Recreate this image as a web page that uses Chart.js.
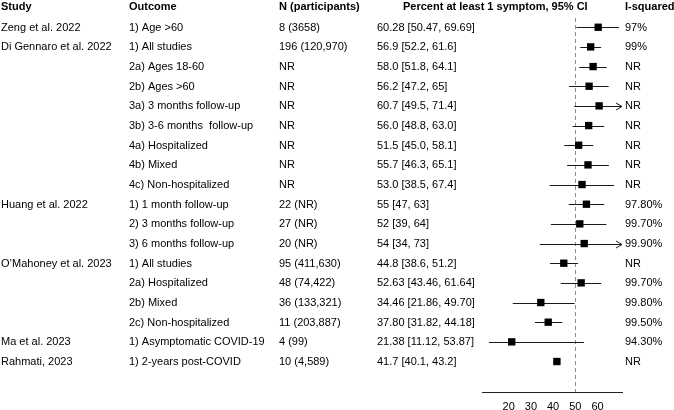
<!DOCTYPE html>
<html>
<head>
<meta charset="utf-8">
<script src="https://cdn.jsdelivr.net/npm/chart.js@4/dist/chart.umd.min.js"></script>
<style>
  html, body { margin: 0; padding: 0; background: #fff; }
  #wrap { width: 674px; height: 410px; }
</style>
</head>
<body>
<div id="wrap"><canvas id="chart" width="674" height="410"></canvas></div>
<script>
// table columns
const studies = ['Zeng et al. 2022', 'Di Gennaro et al. 2022', '', '', '', '', '', '', '',
  'Huang et al. 2022', '', '', 'O\u2019Mahoney et al. 2023', '', '', '', 'Ma et al. 2023', 'Rahmati, 2023'];
const outcomes = ['1) Age >60', '1) All studies', '2a) Ages 18-60', '2b) Ages >60', '3a) 3 months follow-up',
  '3b) 3-6 months  follow-up', '4a) Hospitalized', '4b) Mixed', '4c) Non-hospitalized',
  '1) 1 month follow-up', '2) 3 months follow-up', '3) 6 months follow-up',
  '1) All studies', '2a) Hospitalized', '2b) Mixed', '2c) Non-hospitalized',
  '1) Asymptomatic COVID-19', '1) 2-years post-COVID'];
const participants = ['8 (3658)', '196 (120,970)', 'NR', 'NR', 'NR', 'NR', 'NR', 'NR', 'NR',
  '22 (NR)', '27 (NR)', '20 (NR)', '95 (411,630)', '48 (74,422)', '36 (133,321)', '11 (203,887)',
  '4 (99)', '10 (4,589)'];
const ciText = ['60.28 [50.47, 69.69]', '56.9 [52.2, 61.6]', '58.0 [51.8, 64.1]', '56.2 [47.2, 65]',
  '60.7 [49.5, 71.4]', '56.0 [48.8, 63.0]', '51.5 [45.0, 58.1]', '55.7 [46.3, 65.1]', '53.0 [38.5, 67.4]',
  '55 [47, 63]', '52 [39, 64]', '54 [34, 73]', '44.8 [38.6, 51.2]', '52.63 [43.46, 61.64]',
  '34.46 [21.86, 49.70]', '37.80 [31.82, 44.18]', '21.38 [11.12, 53.87]', '41.7 [40.1, 43.2]'];
const iSquared = ['97%', '99%', 'NR', 'NR', 'NR', 'NR', 'NR', 'NR', 'NR',
  '97.80%', '99.70%', '99.90%', 'NR', '99.70%', '99.80%', '99.50%', '94.30%', 'NR'];

// series values
const estimate = [60.28, 56.9, 58.0, 56.2, 60.7, 56.0, 51.5, 55.7, 53.0, 55, 52, 54, 44.8, 52.63, 34.46, 37.80, 21.38, 41.7];
const lower = [50.47, 52.2, 51.8, 47.2, 49.5, 48.8, 45.0, 46.3, 38.5, 47, 39, 34, 38.6, 43.46, 21.86, 31.82, 11.12, 40.1];
const upper = [69.69, 61.6, 64.1, 65, 71.4, 63.0, 58.1, 65.1, 67.4, 63, 64, 73, 51.2, 61.64, 49.70, 44.18, 53.87, 43.2];

const xTicks = [20, 30, 40, 50, 60];
const refValue = 50;

const headers = ['Study', 'Outcome', 'N (participants)', 'Percent at least 1 symptom, 95% CI', 'I-squared'];
const headerX = [1, 129, 279, 403, 625];
const colX = [1, 129, 279, 377, 625];

const FONT = '"Liberation Sans", Arial, Helvetica, sans-serif';

const forestPlugin = {
  id: 'forest',
  beforeDatasetsDraw(chart) {
    const ctx = chart.ctx;
    const xs = chart.scales.x, ys = chart.scales.y;
    const area = chart.chartArea;
    ctx.save();
    // reference line
    const rx = Math.round(xs.getPixelForValue(refValue)) + 0.5;
    ctx.strokeStyle = '#8a8a8a';
    ctx.lineWidth = 1;
    ctx.setLineDash([4, 3]);
    ctx.beginPath();
    ctx.moveTo(rx, area.top);
    ctx.lineTo(rx, area.bottom);
    ctx.stroke();
    ctx.setLineDash([]);
    // confidence intervals
    ctx.strokeStyle = '#1a1a1a';
    for (let i = 0; i < estimate.length; i++) {
      const y = Math.round(ys.getPixelForValue(i)) + 0.5;
      const lo = Math.max(lower[i], xs.min);
      const hi = Math.min(upper[i], xs.max);
      const x1 = xs.getPixelForValue(lo);
      const x2 = xs.getPixelForValue(hi);
      ctx.beginPath();
      ctx.moveTo(x1, y);
      ctx.lineTo(x2, y);
      ctx.stroke();
      if (upper[i] > xs.max) {
        ctx.beginPath();
        ctx.moveTo(x2 - 6, y - 3.5);
        ctx.lineTo(x2, y);
        ctx.lineTo(x2 - 6, y + 3.5);
        ctx.stroke();
      }
      if (lower[i] < xs.min) {
        ctx.beginPath();
        ctx.moveTo(x1 + 6, y - 3.5);
        ctx.lineTo(x1, y);
        ctx.lineTo(x1 + 6, y + 3.5);
        ctx.stroke();
      }
    }
    ctx.restore();
  },
  afterDraw(chart) {
    const ctx = chart.ctx;
    const ys = chart.scales.y;
    ctx.save();
    ctx.fillStyle = '#000';
    ctx.textBaseline = 'middle';
    ctx.textAlign = 'left';
    ctx.font = 'bold 11px ' + FONT;
    const hy = ys.getPixelForValue(0) - 20;
    headers.forEach((h, k) => ctx.fillText(h, headerX[k], hy));
    ctx.font = '11px ' + FONT;
    for (let i = 0; i < estimate.length; i++) {
      const y = ys.getPixelForValue(i) + 0.5;
      const cols = [studies[i], outcomes[i], participants[i], ciText[i], iSquared[i]];
      cols.forEach((t, k) => ctx.fillText(t, colX[k], y));
    }
    ctx.restore();
  }
};

new Chart(document.getElementById('chart'), {
  type: 'scatter',
  data: {
    datasets: [{
      data: estimate.map((v, i) => ({ x: v, y: i })),
      pointStyle: 'rect',
      pointRadius: 5.2,
      pointHoverRadius: 5.2,
      backgroundColor: '#000',
      borderWidth: 0
    }]
  },
  options: {
    responsive: false,
    animation: false,
    devicePixelRatio: 1,
    layout: { padding: { left: 482, right: 52, top: 18, bottom: -11 } },
    plugins: { legend: { display: false }, tooltip: { enabled: false } },
    scales: {
      x: {
        type: 'linear',
        min: 8,
        max: 71,
        afterBuildTicks(scale) { scale.ticks = xTicks.map(v => ({ value: v })); },
        grid: { display: false, drawTicks: false },
        border: { display: true, color: '#222', width: 1 },
        ticks: { color: '#000', padding: 9, font: { family: FONT, size: 11, lineHeight: 1 } }
      },
      y: {
        type: 'linear',
        reverse: true,
        min: -0.47,
        max: 18.55,
        display: false
      }
    }
  },
  plugins: [forestPlugin]
});
</script>
</body>
</html>
